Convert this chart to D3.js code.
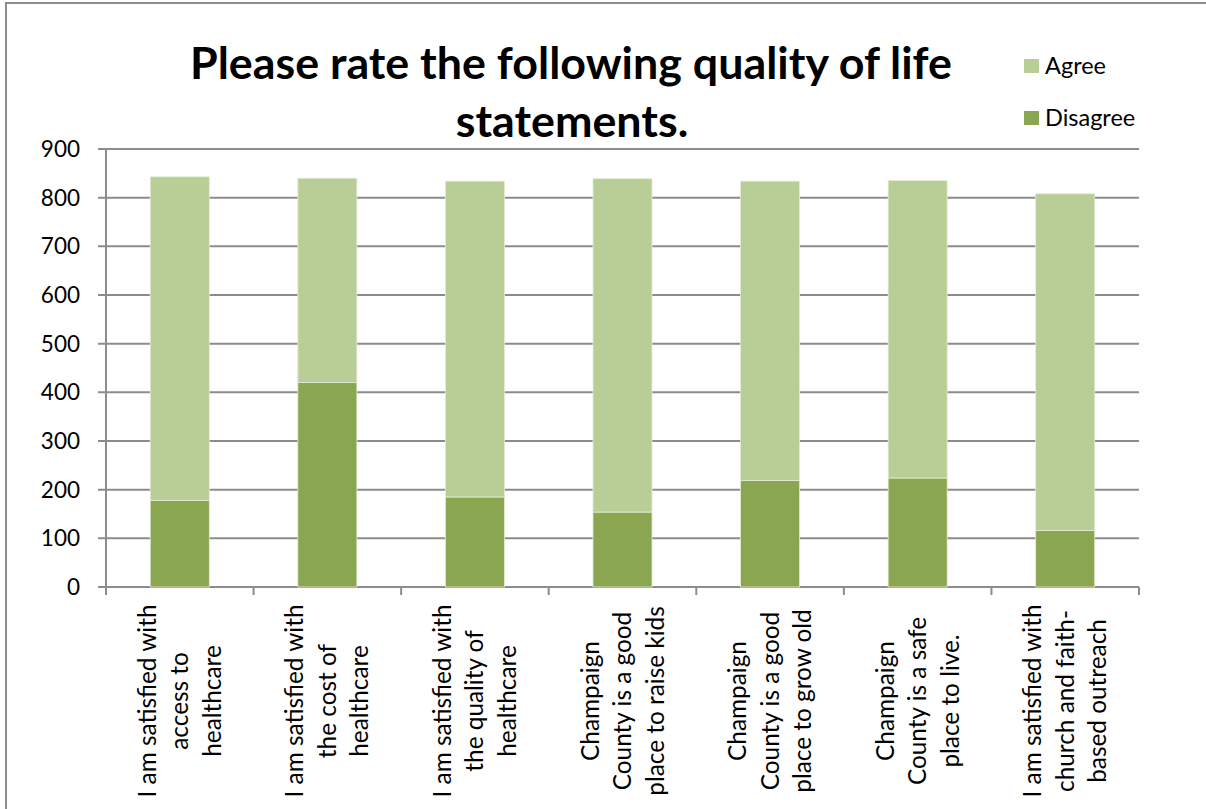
<!DOCTYPE html>
<html>
<head>
<meta charset="utf-8">
<script src="https://cdn.jsdelivr.net/npm/d3@7"></script>
<style>
  html, body { margin: 0; padding: 0; background: #fff; }
  svg { display: block; font-family: Lato, "Open Sans", sans-serif; }
</style>
</head>
<body>
<svg id="chart" width="1206" height="809"></svg>
<script>
const categories = [
  ["I am satisfied with", "access to", "healthcare"],
  ["I am satisfied with", "the cost of", "healthcare"],
  ["I am satisfied with", "the quality of", "healthcare"],
  ["Champaign", "County is a good", "place to raise kids"],
  ["Champaign", "County is a good", "place to grow old"],
  ["Champaign", "County is a safe", "place to live."],
  ["I am satisfied with", "church and faith-", "based outreach"]
];
const disagree = [178, 420, 185, 154, 219, 224, 116];
const agree    = [665, 420, 649, 685, 615, 611, 692];
const seriesNames = ["Agree", "Disagree"];
const seriesColors = ["#B9CE96", "#8AA650"];
const yTicks = [0, 100, 200, 300, 400, 500, 600, 700, 800, 900];
const titleLines = ["Please rate the following quality of life", "statements."];

(function () {
const svg = d3.select("#chart");
const pLeft = 106, pRight = 1139, pTop = 149, pBottom = 587;

// outer border
svg.append("path")
  .attr("d", `M6,809 V3 H1206`)
  .attr("fill", "none").attr("stroke", "#8c8c8c").attr("stroke-width", 2);

const x = d3.scaleBand().domain(d3.range(categories.length))
  .range([pLeft, pRight]).paddingInner(0.6).paddingOuter(0.3);
const y = d3.scaleLinear().domain([0, 900]).range([pBottom, pTop]);

// gridlines
svg.append("g").selectAll("line").data(yTicks).join("line")
  .attr("x1", pLeft - 8).attr("x2", pRight)
  .attr("y1", d => y(d)).attr("y2", d => y(d))
  .attr("stroke", "#8c8c8c").attr("stroke-width", 2);

// y axis line
svg.append("line").attr("x1", pLeft).attr("x2", pLeft)
  .attr("y1", pTop).attr("y2", pBottom)
  .attr("stroke", "#8c8c8c").attr("stroke-width", 2);

// y tick labels
svg.append("g").selectAll("text").data(yTicks).join("text")
  .attr("x", 80).attr("y", d => y(d)).attr("dy", "0.36em")
  .attr("text-anchor", "end").attr("font-size", 22.5).attr("fill", "#000")
  .text(d => d);

// x tick marks at boundaries
const step = x.step();
const boundaries = d3.range(categories.length + 1).map(i => pLeft + i * step);
svg.append("g").selectAll("line").data(boundaries).join("line")
  .attr("x1", d => d).attr("x2", d => d)
  .attr("y1", pBottom).attr("y2", pBottom + 8)
  .attr("stroke", "#8c8c8c").attr("stroke-width", 2);

// stacked bars
const rows = categories.map((c, i) => ({ i, Agree: agree[i], Disagree: disagree[i] }));
const stack = d3.stack().keys(["Disagree", "Agree"])(rows);
const color = d3.scaleOrdinal().domain(seriesNames).range(seriesColors);
svg.append("g").selectAll("g").data(stack).join("g")
  .attr("fill", d => color(d.key))
  .selectAll("rect").data(d => d).join("rect")
  .attr("x", d => x(d.data.i))
  .attr("width", x.bandwidth())
  .attr("y", d => y(d[1]))
  .attr("height", d => y(d[0]) - y(d[1]))
  .attr("stroke", "#e4ecd6").attr("stroke-width", 0.8);

// x labels
const lh = 32.5;
const labelG = svg.append("g");
categories.forEach((lines, i) => {
  const cx = x(i) + x.bandwidth() / 2;
  lines.forEach((ln, j) => {
    labelG.append("text")
      .attr("transform", `translate(${cx + (j - (lines.length - 1) / 2) * lh},701) rotate(-90)`)
      .attr("text-anchor", "middle").attr("dy", "0.35em")
      .attr("font-size", 24).attr("fill", "#000")
      .text(ln);
  });
});
const probe = labelG.select("text").node();
const pw = probe.getComputedTextLength();
labelG.selectAll("text").attr("font-size", 24 * 193 / pw);

// title
const tG = svg.append("g");
const t1 = tG.append("text").attr("x", 571).attr("y", 79)
  .attr("text-anchor", "middle").attr("font-weight", "bold")
  .attr("font-size", 40).text(titleLines[0]);
const w1 = t1.node().getComputedTextLength();
const tfs = 40 * 762 / w1;
t1.attr("font-size", tfs);
tG.append("text").attr("x", 572).attr("y", 137)
  .attr("text-anchor", "middle").attr("font-weight", "bold")
  .attr("font-size", tfs).text(titleLines[1]);

// legend
const legend = svg.append("g");
const legY = [66, 118];
seriesNames.forEach((name, i) => {
  legend.append("rect").attr("x", 1024).attr("y", legY[i] - 7)
    .attr("width", 15).attr("height", 14).attr("fill", color(name));
  legend.append("text").attr("x", 1045).attr("y", legY[i]).attr("dy", "0.36em")
    .attr("font-size", 23.5).attr("fill", "#000").text(name);
});
})();
</script>
</body>
</html>
